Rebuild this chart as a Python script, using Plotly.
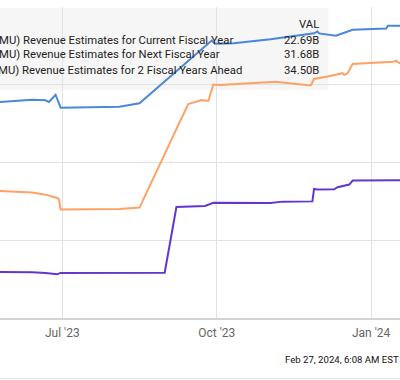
import plotly.graph_objects as go

# ---- data (values in billions USD) ----
blue_dates = ["2023-05-20", "2023-05-25", "2023-06-13", "2023-06-21", "2023-06-23", "2023-06-27",
              "2023-06-30", "2023-08-04", "2023-08-16", "2023-09-28", "2023-09-30", "2023-10-11",
              "2023-11-02", "2023-11-10", "2023-11-28", "2023-11-30", "2023-12-01", "2023-12-11",
              "2023-12-21", "2024-01-10", "2024-01-11", "2024-01-18", "2024-02-27"]
blue_vals = [28.67, 28.67, 28.85, 28.80, 28.67, 29.23,
             28.23, 28.30, 28.57, 33.41, 33.16, 33.21,
             33.52, 33.65, 33.97, 34.11, 33.96, 33.78,
             34.24, 34.34, 34.55, 34.55, 34.50]

orange_dates = ["2023-05-20", "2023-05-25", "2023-06-13", "2023-06-21", "2023-06-28", "2023-06-29",
                "2023-06-30", "2023-08-04", "2023-08-16", "2023-09-14", "2023-09-22", "2023-09-26",
                "2023-09-29", "2023-10-03", "2023-10-22", "2023-11-05", "2023-11-26", "2023-11-28",
                "2023-12-06", "2023-12-15", "2023-12-16", "2023-12-18", "2023-12-21", "2024-01-01",
                "2024-01-14", "2024-01-16", "2024-01-18", "2024-02-27"]
orange_vals = [21.82, 21.80, 21.68, 21.52, 21.26, 21.16,
               20.38, 20.41, 20.52, 28.51, 28.82, 28.75,
               30.02, 29.98, 30.12, 30.24, 29.95, 30.45,
               30.63, 30.89, 30.76, 30.89, 31.61, 31.66,
               31.77, 31.84, 31.65, 31.68]

purple_dates = ["2023-05-20", "2023-05-25", "2023-06-13", "2023-06-21", "2023-06-28", "2023-06-30",
                "2023-08-31", "2023-09-07", "2023-09-24", "2023-09-29", "2023-11-02", "2023-11-09",
                "2023-11-27", "2023-11-28", "2023-11-30", "2023-12-10", "2023-12-12", "2023-12-19",
                "2023-12-21", "2024-01-18", "2024-02-27"]
purple_vals = [15.56, 15.56, 15.53, 15.47, 15.38, 15.48,
               15.49, 20.56, 20.64, 20.89, 20.87, 20.98,
               21.00, 21.96, 21.91, 21.93, 22.09, 22.30,
               22.61, 22.63, 22.69]

tick_vals = ["2023-07-01", "2023-10-01", "2024-01-01"]
tick_text = ["Jul '23", "Oct '23", "Jan '24"]

legend_names = ["Micron Technology Inc (MU) Revenue Estimates for Current Fiscal Year",
                "Micron Technology Inc (MU) Revenue Estimates for Next Fiscal Year",
                "Micron Technology Inc (MU) Revenue Estimates for 2 Fiscal Years Ahead"]
legend_vals = ["22.69B", "31.68B", "34.50B"]
timestamp = "Feb 27, 2024, 6:08 AM EST"

BLUE = "#4a87d9"
ORANGE = "#ffa166"
PURPLE = "#6337cf"

fig = go.Figure()
fig.add_trace(go.Scatter(x=blue_dates, y=blue_vals, mode="lines",
                         line=dict(color=BLUE, width=2), name=legend_names[2]))
fig.add_trace(go.Scatter(x=orange_dates, y=orange_vals, mode="lines",
                         line=dict(color=ORANGE, width=2), name=legend_names[1]))
fig.add_trace(go.Scatter(x=purple_dates, y=purple_vals, mode="lines",
                         line=dict(color=PURPLE, width=2), name=legend_names[0]))

T, B = 7, 62
H = 380 - T - B

def py(px):
    return (380 - B - px) / H

fig.update_layout(
    width=400, height=380,
    margin=dict(l=0, r=0, t=T, b=B),
    paper_bgcolor="white", plot_bgcolor="white",
    showlegend=False,
    font=dict(family="Roboto", color="#222"),
    xaxis=dict(range=["2023-05-24 21:00", "2024-01-18 05:00"],
               tickvals=tick_vals, ticktext=tick_text,
               showgrid=True, gridcolor="#e2e2e2", gridwidth=1,
               showline=True, linecolor="#d3d3d3", linewidth=2,
               ticks="", tickfont=dict(size=12, color="#666"),
               ticklabelstandoff=3,
               zeroline=False),
    yaxis=dict(range=[12, 36], dtick=6, tick0=0,
               showgrid=True, gridcolor="#e2e2e2", gridwidth=1,
               showticklabels=False, ticks="", zeroline=False),
)

# legend box
fig.add_shape(type="rect", xref="paper", yref="paper",
              x0=-0.1, x1=328.3 / 400, y0=py(90), y1=py(8),
              fillcolor="rgba(240,240,240,0.6)", line=dict(width=0), layer="below")

# bottom border line
fig.add_shape(type="line", xref="paper", yref="paper",
              x0=0, x1=1, y0=py(378.5), y1=py(378.5),
              line=dict(color="#e6e6e6", width=1))

fig.add_annotation(text="VAL", xref="paper", yref="paper", x=320.5 / 400, y=py(24.3),
                   xanchor="right", yanchor="middle", showarrow=False,
                   font=dict(size=11.3, color="#222"))
row_y = [40.0, 54.7, 70.7]
row_end = [235.0, 222.0, 244.5]
for name, val, yy, xe in zip(legend_names, legend_vals, row_y, row_end):
    fig.add_annotation(text=name, xref="paper", yref="paper", x=xe / 400, y=py(yy),
                       xanchor="right", yanchor="middle", showarrow=False,
                       font=dict(size=11.3, color="#222"))
    fig.add_annotation(text=val, xref="paper", yref="paper", x=320.5 / 400, y=py(yy),
                       xanchor="right", yanchor="middle", showarrow=False,
                       font=dict(size=11.3, color="#222"))

fig.add_annotation(text=timestamp, xref="paper", yref="paper", x=401.5 / 400, y=py(359.3),
                   xanchor="right", yanchor="middle", showarrow=False,
                   font=dict(size=9.6, color="#111"))

fig.write_html("out.html", config={"displayModeBar": False},
               post_script="document.body.style.margin='0';")
